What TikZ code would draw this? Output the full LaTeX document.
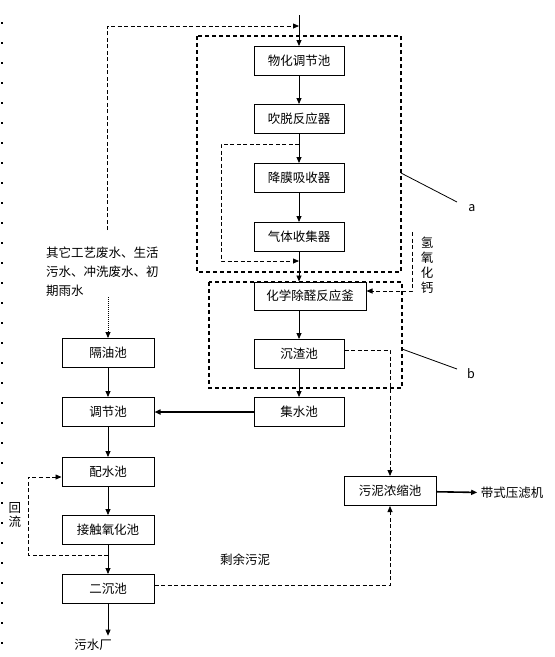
\documentclass[tikz,border=0pt]{standalone}
\usepackage{fontspec}
\setmainfont{Noto Sans CJK SC}
\usetikzlibrary{arrows.meta}

\begin{document}
\begin{tikzpicture}[x=1pt,y=-1pt,font=\fontsize{12.5}{15}\selectfont,
		box/.style={draw,line width=1pt,minimum width=90pt,minimum height=29pt,inner sep=0pt},
		frame/.style={draw,line width=1.4pt,dash pattern=on 4pt off 3pt},
		flow/.style={line width=0.8pt,-{Triangle[length=6pt,width=5pt]}},
		dflow/.style={flow,dash pattern=on 4pt off 2.5pt}]
		\useasboundingbox (0,0) rectangle (555,657);
		\draw[line width=1.2pt,dash pattern=on 2pt off 18pt](2,22)--(2,657);
		\draw[frame](197,36) rectangle (401,272);
		\draw[frame](209,282) rectangle (402,388);
		\node[box] (wuhua) at (299,61) {物化调节池};
		\node[box] (chuituo) at (299,119) {吹脱反应器};
		\node[box] (jiangmo) at (299,178) {降膜吸收器};
		\node[box] (qiti) at (299,237) {气体收集器};
		\node[box,minimum width=112pt,minimum height=28pt] (chuquan) at (310,296) {化学除醛反应釜};
		\node[box] (chenzha) at (299,354) {沉渣池};
		\node[box] (jishui) at (299,412) {集水池};
		\node[box,minimum width=92pt] (geyou) at (108,353) {隔油池};
		\node[box,minimum width=92pt] (tiaojie) at (108,412) {调节池};
		\node[box,minimum width=92pt] (peishui) at (108,472) {配水池};
		\node[box,minimum width=92pt] (jiechu) at (108,530) {接触氧化池};
		\node[box,minimum width=92pt] (erchen) at (108,589) {二沉池};
		\node[box,minimum width=92pt] (wuni) at (390,491) {污泥浓缩池};
		\node (daishi) at (512,493) {带式压滤机};
		\node (wushui) at (93,645) {污水厂};
		\node[anchor=north west,align=left,inner sep=0pt,font=\fontsize{12.5}{19}\selectfont] (qita) at (46,247) {其它工艺废水、生活\\污水、冲洗废水、初\\期雨水};
		\node[align=center,inner sep=0pt,font=\fontsize{12.5}{15}\selectfont] (qing) at (427,265) {氢\\氧\\化\\钙};
		\node[align=center,inner sep=0pt,font=\fontsize{12.5}{14}\selectfont] (huiliu) at (15,515) {回\\流};
		\node (shengyu) at (245,560) {剩余污泥};
		\node (la) at (472,208) {a};
		\node (lb) at (471,374) {b};
		\coordinate (top) at (299,15);
		\draw[flow](top)--(wuhua);
		\draw[flow](wuhua)--(chuituo);
		\draw[flow](chuituo)--(jiangmo);
		\draw[flow](jiangmo)--(qiti);
		\draw[flow](qiti)--(qiti.south|-chuquan.north);
		\draw[flow](chuquan.south-|chenzha)--(chenzha);
		\draw[flow](chenzha)--(jishui);
		\draw[flow,line width=1.6pt](jishui)--(tiaojie);
		\draw[dflow](107,230)--(107,26)--(top|-0,26);
		\draw[dflow](299,144)--(221,144)--(221,261)--(299,261);
		\draw[dflow](412,232)--(412,291)--(chuquan.east|-0,291);
		\draw[flow,dash pattern=on 1pt off 1pt](qita.south-|geyou)--(geyou);
		\draw[flow](geyou)--(tiaojie);
		\draw[flow](tiaojie)--(peishui);
		\draw[flow](peishui)--(jiechu);
		\draw[flow](jiechu)--(erchen);
		\draw[flow](erchen)--(erchen|-wushui.north);
		\draw[dflow](108,555)--(28,555)--(28,477)--(peishui.west|-0,477);
		\draw[dflow](chenzha.east|-0,350)--(390,350)--(wuni);
		\draw[dflow](erchen.east|-0,585)--(390,585)--(wuni);
		\draw[flow,line width=1.6pt](wuni)--(daishi);
		\draw[line width=0.8pt](401,173)--(457,202);
		\draw[line width=0.8pt](402,349)--(457,369);
		\end{tikzpicture}
\end{document}
